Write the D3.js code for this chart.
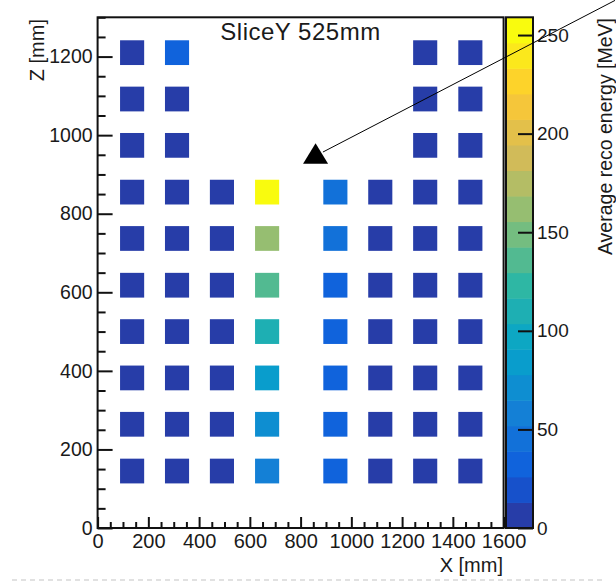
<!DOCTYPE html>
<html>
<head>
<meta charset="utf-8">
<script src="https://cdn.jsdelivr.net/npm/d3@7"></script>
<style>
  html, body { margin: 0; padding: 0; background: #fff; }
  svg { display: block; }
  text { font-family: "Liberation Sans", Arial, Helvetica, sans-serif; fill: #1a1a1a; }
</style>
</head>
<body>
<svg id="chart" width="616" height="584"></svg>
<script>
// Module positions along X and Z (mm), cell centres
const xCenters = [136, 313, 490, 668, 937, 1114, 1291, 1469];
const zCenters = [145, 264, 382, 500, 618, 737, 855, 974, 1092, 1210];

// Average reconstructed energy per module (MeV); one row per Z position, bottom to top.
// null = no module at that position
const row145  = [6, 7, 6, 58, 31, 7, 6, 6];
const row264  = [6, 6, 7, 72, 37, 7, 6, 6];
const row382  = [7, 6, 7, 84, 34, 7, 6, 7];
const row500  = [6, 7, 7, 110, 32, 7, 6, 6];
const row618  = [7, 6, 7, 135, 33, 6, 7, 6];
const row737  = [6, 7, 7, 162, 40, 7, 6, 7];
const row855  = [6, 6, 7, 259, 42, 7, 6, 6];
const row974  = [6, 7, null, null, null, null, 6, 6];
const row1092 = [6, 6, null, null, null, null, 6, 6];
const row1210 = [6, 28, null, null, null, null, 6, 6];
const energyRows = [row145, row264, row382, row500, row618, row737, row855, row974, row1092, row1210];

// Axis ticks
const xTicks = [0, 200, 400, 600, 800, 1000, 1200, 1400, 1600];
const zTicks = [0, 200, 400, 600, 800, 1000, 1200];
const colorTicks = [0, 50, 100, 150, 200, 250];

const titleText = "SliceY 525mm";
const xTitle = "X [mm]";
const zTitle = "Z [mm]";
const colorTitle = "Average reco energy [MeV]";

// Module cell size (mm)
const cellW = 95;
const cellH = 63;

// Axis ranges
const xDomain = [0, 1600];
const zDomain = [0, 1300];
const nContours = 20;

// Bird palette (ROOT kBird) stops
const birdStops = [0.0, 0.125, 0.25, 0.375, 0.5, 0.625, 0.75, 0.875, 1.0];
const birdR = [0.2082, 0.0592, 0.0780, 0.0232, 0.1802, 0.5301, 0.8186, 0.9956, 0.9764];
const birdG = [0.1664, 0.3599, 0.5041, 0.6419, 0.7178, 0.7492, 0.7328, 0.7862, 0.9832];
const birdB = [0.5293, 0.8684, 0.8385, 0.7914, 0.6425, 0.4662, 0.3499, 0.1968, 0.0539];

const svg = d3.select("#chart");

const frame = { left: 97.6, right: 503.6, top: 17.3, bottom: 528 };
const x = d3.scaleLinear().domain(xDomain).range([frame.left, frame.right]);
const z = d3.scaleLinear().domain(zDomain).range([frame.bottom, frame.top]);

// Flatten cells
const cells = [];
energyRows.forEach((row, i) => row.forEach((v, j) => {
  if (v !== null) cells.push({ x: xCenters[j], z: zCenters[i], v });
}));
const zMax = d3.max(cells, d => d.v);

const bird = d3.scaleLinear()
  .domain(birdStops)
  .range(birdStops.map((_, i) => d3.rgb(birdR[i] * 255, birdG[i] * 255, birdB[i] * 255)))
  .interpolate(d3.interpolateRgb);

const nColors = 255;
function bandColor(k) {
  const idx = Math.floor((k + 0.99) * nColors / nContours);
  return bird(Math.min(idx, nColors - 1) / (nColors - 1));
}
function valueColor(v) {
  const k = Math.max(0, Math.min(nContours - 1, Math.floor(0.01 + v * nContours / zMax)));
  return bandColor(k);
}

// Cells
svg.append("g").selectAll("rect")
  .data(cells)
  .join("rect")
  .attr("x", d => x(d.x - cellW / 2))
  .attr("y", d => z(d.z + cellH / 2))
  .attr("width", d => x(d.x + cellW / 2) - x(d.x - cellW / 2))
  .attr("height", d => z(d.z - cellH / 2) - z(d.z + cellH / 2))
  .attr("fill", d => valueColor(d.v));

// Frame
svg.append("rect")
  .attr("x", frame.left).attr("y", frame.top)
  .attr("width", frame.right - frame.left).attr("height", frame.bottom - frame.top)
  .attr("fill", "none").attr("stroke", "#111").attr("stroke-width", 2);

const labelFont = 19.5;

// Y axis (Z)
const zMinor = d3.range(0, 1301, 50).filter(v => v % 200 !== 0);
const zAxisG = svg.append("g").attr("transform", `translate(${frame.left},0)`)
  .call(d3.axisLeft(z).tickValues(zTicks).tickSize(-15).tickPadding(5).tickFormat(d3.format("d")));
svg.append("g").attr("transform", `translate(${frame.left},0)`)
  .call(d3.axisLeft(z).tickValues(zMinor).tickSize(-8).tickFormat(""));

// X axis
const xMinor = d3.range(0, 1601, 50).filter(v => v % 200 !== 0);
const xAxisG = svg.append("g").attr("transform", `translate(0,${frame.bottom})`)
  .call(d3.axisBottom(x).tickValues(xTicks).tickSize(-11).tickPadding(6).tickFormat(d3.format("d")));
svg.append("g").attr("transform", `translate(0,${frame.bottom})`)
  .call(d3.axisBottom(x).tickValues(xMinor).tickSize(-6).tickFormat(""));

// Colour bar
const cb = { left: 506, right: 533 };
const c = d3.scaleLinear().domain([0, zMax]).range([frame.bottom, frame.top]);
const bands = d3.range(nContours);
const bandW = zMax / nContours;
svg.append("g").selectAll("rect")
  .data(bands)
  .join("rect")
  .attr("x", cb.left)
  .attr("width", cb.right - cb.left)
  .attr("y", k => c((k + 1) * bandW))
  .attr("height", k => c(k * bandW) - c((k + 1) * bandW) + 0.5)
  .attr("fill", k => bandColor(k));
svg.append("rect")
  .attr("x", cb.left).attr("y", frame.top)
  .attr("width", cb.right - cb.left).attr("height", frame.bottom - frame.top)
  .attr("fill", "none").attr("stroke", "#111").attr("stroke-width", 2);
const cAxisG = svg.append("g").attr("transform", `translate(${cb.right},0)`)
  .call(d3.axisRight(c).tickValues(colorTicks).tickSize(-15).tickPadding(4).tickFormat(d3.format("d")));

// Axis styling
svg.selectAll(".domain").remove();
svg.selectAll(".tick line").attr("stroke", "#111").attr("stroke-width", 2);
svg.selectAll(".tick text").attr("font-size", labelFont).attr("fill", "#1a1a1a")
  .attr("font-family", "'Liberation Sans', Arial, sans-serif");
xAxisG.selectAll(".tick text").attr("font-size", 20);
cAxisG.selectAll(".tick text").attr("font-size", 19);

// Titles
svg.append("text")
  .attr("x", 300.5).attr("y", 40)
  .attr("text-anchor", "middle")
  .attr("font-size", 24)
  .attr("letter-spacing", 0.5)
  .text(titleText);

svg.append("text")
  .attr("x", 503).attr("y", 572)
  .attr("text-anchor", "end")
  .attr("font-size", 20)
  .text(xTitle);

svg.append("text")
  .attr("transform", "translate(44,19) rotate(-90)")
  .attr("text-anchor", "end")
  .attr("font-size", 20)
  .text(zTitle);

svg.append("text")
  .attr("transform", "translate(612,18) rotate(-90)")
  .attr("text-anchor", "end")
  .attr("font-size", 19.5)
  .text(colorTitle);

// Pointer annotation: line ending at a triangle marker
const pointerFrom = { x: 2039, z: 1343 };
const pointerTo = { x: 888, z: 957 };
const markerAt = { x: 859, z: 946 };
svg.append("line")
  .attr("x1", x(pointerFrom.x)).attr("y1", z(pointerFrom.z))
  .attr("x2", x(pointerTo.x)).attr("y2", z(pointerTo.z))
  .attr("stroke", "#000").attr("stroke-width", 1);
svg.append("path")
  .attr("transform", `translate(${x(markerAt.x)},${z(markerAt.z)})`)
  .attr("d", "M0,-13 L12.5,7.5 L-12.5,7.5 Z")
  .attr("fill", "#000");

// Separator
svg.append("line")
  .attr("x1", 12).attr("x2", 604).attr("y1", 580).attr("y2", 580)
  .attr("stroke", "#d8d8d8").attr("stroke-width", 1.5).attr("stroke-dasharray", "5,4");
</script>
</body>
</html>
